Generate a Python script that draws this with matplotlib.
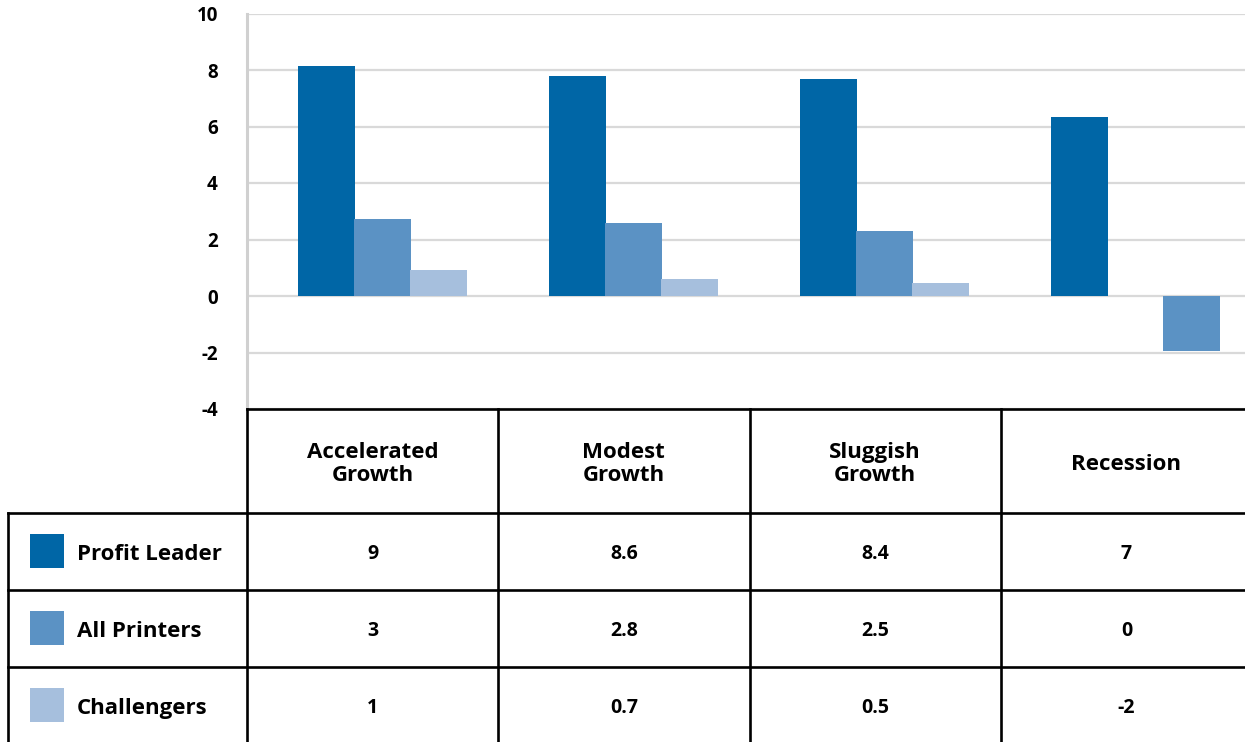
import matplotlib
matplotlib.use("Agg")
import matplotlib.pyplot as plt
from matplotlib.patches import Rectangle

plt.rcParams['font.family'] = ['Open Sans', 'DejaVu Sans']

# ---- data ----
categories = ["Accelerated\nGrowth", "Modest\nGrowth", "Sluggish\nGrowth", "Recession"]
series_names = ["Profit Leader", "All Printers", "Challengers"]
# bar heights as drawn in the chart
bar_profit_leader = [8.15, 7.78, 7.68, 6.33]
bar_all_printers = [2.73, 2.59, 2.31, 0.0]
bar_challengers = [0.93, 0.61, 0.47, -1.96]
# values printed in the table
table_profit_leader = ["9", "8.6", "8.4", "7"]
table_all_printers = ["3", "2.8", "2.5", "0"]
table_challengers = ["1", "0.7", "0.5", "-2"]
yticks = [-4, -2, 0, 2, 4, 6, 8, 10]

# ---- style ----
c_pl, c_ap, c_ch = "#0066A6", "#5B92C4", "#A6BFDD"
series_colors = [c_pl, c_ap, c_ch]
bar_colors = [[c_pl] * 4, [c_ap] * 4, [c_ch, c_ch, c_ch, c_ap]]
grid_c = "#D9D9D9"

W, H = 1245, 742
fig = plt.figure(figsize=(W / 100, H / 100), dpi=100)

# chart axes
ax = fig.add_axes([247 / W, 1 - 409 / H, (1252 - 247) / W, (409 - 13.5) / H])
ax.set_xlim(-0.5, 3.5)
ax.set_ylim(-4, 10)
ax.set_yticks(yticks)
ax.set_yticklabels([str(t) for t in yticks], fontsize=13.5, fontweight='bold')
ax.tick_params(axis='y', length=0, pad=21)
ax.set_xticks([])
ax.yaxis.grid(True, color=grid_c, lw=1.6)
ax.set_axisbelow(True)
for s in ["top", "right", "bottom"]:
    ax.spines[s].set_visible(False)
ax.spines["left"].set_color("#D0D0D0")
ax.spines["left"].set_linewidth(2.2)

bw = 0.223
shift = 0.038
series = [bar_profit_leader, bar_all_printers, bar_challengers]
for k, vals in enumerate(series):
    xs = [i + shift + (k - 1) * bw for i in range(len(categories))]
    ax.bar(xs, vals, width=bw + 0.004, color=bar_colors[k], zorder=3, linewidth=0)

# table axes
tax = fig.add_axes([8 / W, 1 - 745 / H, (1252 - 8) / W, (745 - 409) / H])
hdr = 104 / 77
left = -239 / 251.25
tax.set_xlim(left, 4)
tax.set_ylim(hdr + 3.0 + 0.013, 0)
tax.axis('off')
lw = 1.9
kw = dict(color='black', lw=lw, clip_on=False, solid_capstyle='projecting')
tax.plot([0, 4], [0, 0], **kw)
for r in range(3):
    y = hdr + r
    tax.plot([left, 4], [y, y], **kw)
tax.plot([left, left], [hdr, hdr + 3.2], **kw)
for j in range(4):
    tax.plot([j, j], [0, hdr + 3.2], **kw)

for j, cat in enumerate(categories):
    tax.text(j + 0.5, hdr / 2 + 0.04, cat, ha='center', va='center', fontsize=16,
             fontweight='bold', linespacing=1.12)

table_rows = [table_profit_leader, table_all_printers, table_challengers]
for r, (name, vals) in enumerate(zip(series_names, table_rows)):
    yc = hdr + r + 0.5
    sq_w = 34 / 251.25
    sq_h = 34 / 77
    tax.add_patch(Rectangle((left + 22 / 251.25, yc - sq_h / 2), sq_w, sq_h,
                            color=series_colors[r], lw=0, clip_on=False))
    tax.text(left + 69 / 251.25, yc + 0.045, name, ha='left', va='center', fontsize=16,
             fontweight='bold')
    for j, v in enumerate(vals):
        tax.text(j + 0.5, yc + 0.035, v, ha='center', va='center', fontsize=14, fontweight='bold')

fig.savefig("out.png", dpi=100)
